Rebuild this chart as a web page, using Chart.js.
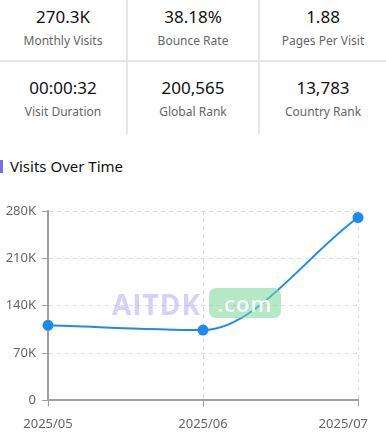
<!DOCTYPE html>
<html>
<head>
<meta charset="utf-8">
<script src="https://cdn.jsdelivr.net/npm/chart.js@4.4.1/dist/chart.umd.min.js"></script>
<style>
  body { margin: 0; width: 386px; height: 442px; overflow: hidden; background: #fff; font-family: "Noto Sans", sans-serif; }
  .stats { position: absolute; left: 0; top: 0; width: 386px; display: grid; grid-template-columns: 128px 132px 126px; }
  .cell { height: 62px; text-align: center; box-sizing: border-box; border-right: 2px solid #e6e6ea; }
  .cell:nth-child(3n) { border-right: none; }
  .cell.r1 { border-bottom: 2px solid #e6e6ea; }
  .cell.r2 { height: 72px; padding-top: 9px; }
  .val { font-size: 17px; color: #111; padding-top: 4px; line-height: 26px; }
  .lab { font-size: 12px; color: #666; line-height: 22px; }
  .title { position: absolute; left: 0; top: 156px; font-size: 15px; color: #111; padding-left: 10px; }
  .title:before { content: ""; position: absolute; left: 0; top: 4px; width: 3px; height: 13px; background: #7b6cf6; }
  .wrap { position: absolute; left: 0; top: 180px; width: 386px; height: 262px; }
  .wm { position: absolute; left: 112px; top: 285px; font-family: "Open Sans", sans-serif; font-weight: 700; font-size: 28px; color: rgba(150,140,250,0.4); letter-spacing: 1px; }
  .wm span { display: inline-block; margin-left: 8px; font-size: 22px; color: #fff; background: rgba(120,215,150,0.55); border-radius: 7px; padding: 0 8px; line-height: 30px; vertical-align: 3px; font-weight: 600; }
</style>
</head>
<body>
<div class="stats">
  <div class="cell r1"><div class="val">270.3K</div><div class="lab">Monthly Visits</div></div>
  <div class="cell r1"><div class="val">38.18%</div><div class="lab">Bounce Rate</div></div>
  <div class="cell r1"><div class="val">1.88</div><div class="lab">Pages Per Visit</div></div>
  <div class="cell r2"><div class="val">00:00:32</div><div class="lab">Visit Duration</div></div>
  <div class="cell r2"><div class="val">200,565</div><div class="lab">Global Rank</div></div>
  <div class="cell r2"><div class="val">13,783</div><div class="lab">Country Rank</div></div>
</div>
<div class="title">Visits Over Time</div>
<div class="wrap"><canvas id="myChart"></canvas></div>
<div class="wm">AITDK<span>.com</span></div>
<script>
const months = ['2025/05', '2025/06', '2025/07'];
const visits = [111000, 104000, 270300];
const yTicks = [0, 70000, 140000, 210000, 280000];

const lineColor = '#1a8cf0';
const axisColor = '#a0a0a0';
const gridColor = '#dcdcdc';

const ctx = document.getElementById('myChart');

new Chart(ctx, {
    type: 'line',
    data: {
        labels: months,
        datasets: [{
            label: 'Visits',
            data: visits,
            borderColor: lineColor,
            backgroundColor: lineColor,
            borderWidth: 2,
            pointRadius: 4.5,
            pointHoverRadius: 5,
            cubicInterpolationMode: 'monotone'
        }]
    },
    options: {
        responsive: true,
        maintainAspectRatio: false,
        animation: false,
        layout: { padding: { top: 31, right: 28, bottom: 0, left: 0 } },
        plugins: { legend: { display: false }, tooltip: { enabled: false } },
        scales: {
            x: {
                offset: false,
                afterFit: (scale) => { scale.paddingRight = 0; scale.paddingLeft = 0; },
                grid: { color: gridColor, tickColor: axisColor, tickLength: 6, lineWidth: 1 },
                border: { color: axisColor, width: 2, dash: [4, 4] },
                ticks: {
                    color: '#666',
                    font: { family: 'Noto Sans', size: 13 },
                    padding: 10,
                    maxRotation: 0,
                    // last label sits a bit left of its tick, like the original
                    callback: function (v, i, all) {
                        const t = this.getLabelForValue(v);
                        return i === all.length - 1 ? t + '\u2003\u2003 ' : t;
                    }
                }
            },
            y: {
                min: 0,
                max: 280000,
                afterBuildTicks: (scale) => { scale.ticks = yTicks.map(v => ({ value: v })); },
                afterFit: (scale) => { scale.width = 48; },
                grid: { color: gridColor, tickColor: axisColor, tickLength: 6, lineWidth: 1 },
                border: { color: axisColor, width: 2, dash: [4, 4] },
                ticks: {
                    color: '#666',
                    font: { family: 'Noto Sans', size: 13 },
                    padding: 6,
                    callback: (v) => v === 0 ? '0' : (v / 1000) + 'K'
                }
            }
        }
    }
});
</script>
</body>
</html>
